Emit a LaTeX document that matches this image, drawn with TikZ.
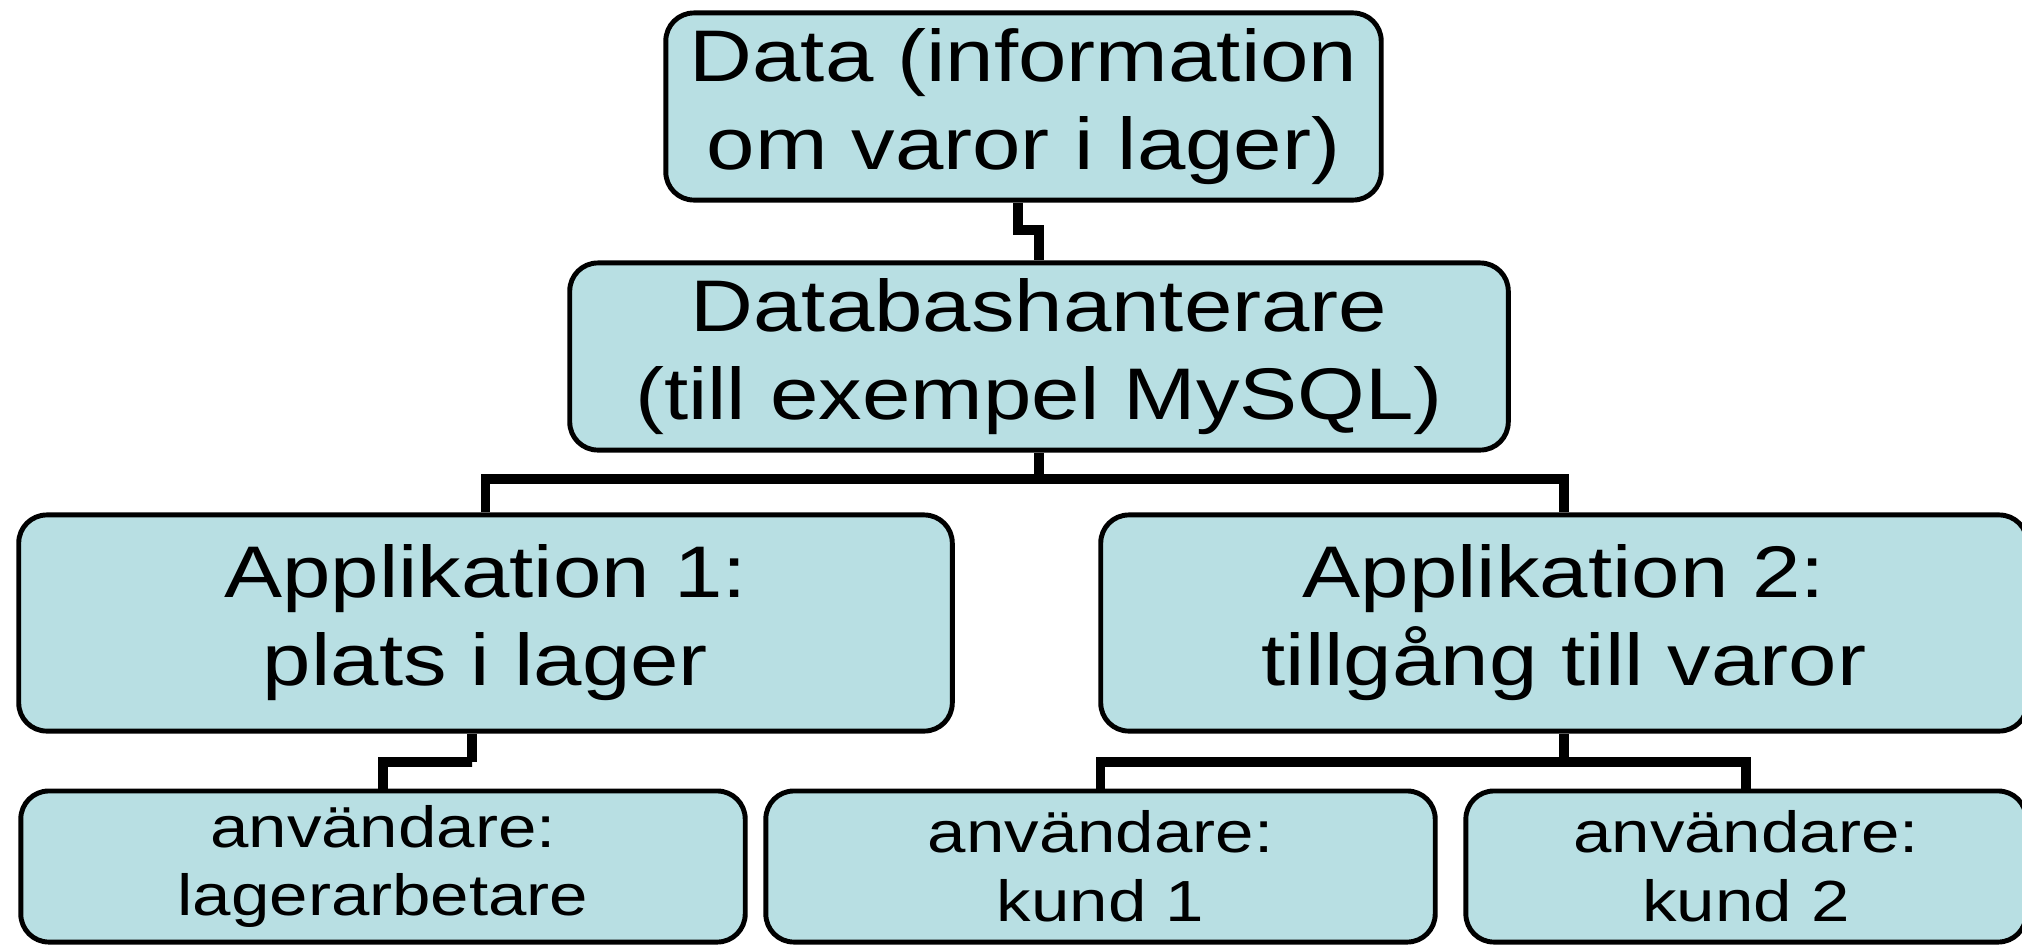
\documentclass[tikz,border=0pt]{standalone}
\usepackage{fontspec}
\setmainfont{Liberation Sans}[FakeStretch=1.19]
\usetikzlibrary{calc}
\definecolor{boxfill}{RGB}{184,223,227}
\tikzset{
  box/.style={draw=black, fill=boxfill, line width=1.4pt, rounded corners=0.28cm,
    align=center, inner sep=0pt},
  bigbox/.style={box, font=\fontsize{20.8pt}{25pt}\selectfont},
  smallbox/.style={box, font=\fontsize{16.5pt}{19.6pt}\selectfont},
  link/.style={draw=black, line width=2.6pt}
}
\begin{document}
\begin{tikzpicture}[x=0.01cm, y=-0.01cm]
\clip (0,0) rectangle (2022,945);
\fill[white] (0,0) rectangle (2022,945);
\node[bigbox, minimum width=7.15cm, minimum height=1.87cm] (data) at (1023.5,106.5) {Data (information\\om varor i lager)};
\node[bigbox, minimum width=9.38cm, minimum height=1.87cm] (dbms) at (1039,356.5) {Databashanterare\\(till exempel MySQL)};
\node[bigbox, minimum width=9.33cm, minimum height=2.16cm] (app1) at (485.5,623) {Applikation 1:\\plats i lager};
\node[bigbox, minimum width=9.26cm, minimum height=2.16cm] (app2) at (1564,623) {Applikation 2:\\tillgång till varor};
\node[smallbox, minimum width=7.24cm, minimum height=1.51cm] (u1) at (383,866.5) {användare:\\lagerarbetare};
\node[smallbox, minimum width=6.69cm, minimum height=1.51cm] (u2) at (1100.5,866.5) {användare:\\kund 1};
\node[smallbox, minimum width=5.60cm, minimum height=1.51cm] (u3) at (1746,866.5) {användare:\\kund 2};
% connectors
\coordinate (j1) at (1018,230);
\coordinate (b1) at (1039,479);
\coordinate (j2) at (472,762);
\coordinate (b2) at (1564,762);
\draw[link] ([xshift=-0.055cm]data.south) |- (j1) -| (dbms.north);
\draw[link] (dbms.south) -- (b1);
\draw[link] (app1.north) |- (b1) -| (app2.north);
\draw[link] ([xshift=-0.135cm]app1.south) |- (j2) -| (u1.north);
\draw[link] (app2.south) -- (b2);
\draw[link] (u2.north) |- (b2) -| (u3.north);
\end{tikzpicture}
\end{document}
